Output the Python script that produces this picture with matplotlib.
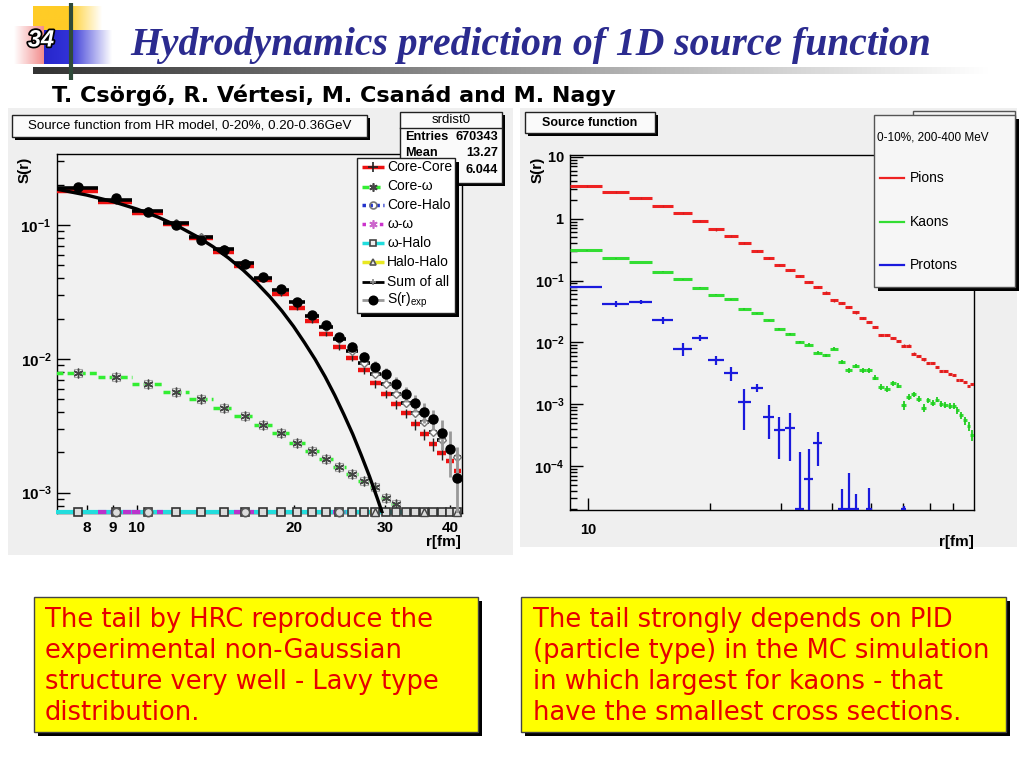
import numpy as np
import matplotlib
matplotlib.use("Agg")
import matplotlib.pyplot as plt
from matplotlib.patches import Rectangle
import matplotlib.patheffects as pe
from matplotlib.ticker import FixedLocator, FixedFormatter, NullFormatter, LogLocator

plt.rcParams['font.family'] = ['Liberation Sans', 'DejaVu Sans']
plt.rcParams['mathtext.fontset'] = 'custom'
plt.rcParams['mathtext.rm'] = 'Liberation Sans'
plt.rcParams['mathtext.bf'] = 'Liberation Sans:bold'
plt.rcParams['mathtext.it'] = 'Liberation Sans:italic'

# ---------------- data: left panel (HR model, bins of 1.4 fm) ----------------
left_edges = [7.0, 8.4, 9.8, 11.2, 12.6, 14.0, 15.4, 16.8, 18.2, 19.6, 21.0, 22.4, 23.8,
              25.2, 26.6, 28.0, 29.4, 30.8, 32.2, 33.6, 35.0, 36.4, 37.8, 39.2, 40.6, 42.0]
core_core = [0.180, 0.149, 0.124, 0.1017, 0.0796, 0.0632, 0.0494, 0.0388, 0.0305, 0.0241,
             0.0192, 0.0153, 0.0123, 0.0102, 0.0082, 0.00656, 0.00546, 0.00459, 0.00392,
             0.00326, 0.00274, 0.00231, 0.00199, 0.00172, 0.00146]
core_core_err = [0.003, 0.003, 0.0025, 0.002, 0.0017, 0.0014, 0.0012, 0.001, 0.0009, 0.0008,
                 0.0007, 0.0006, 0.0006, 0.0005, 0.0005, 0.00045, 0.0004, 0.00035, 0.0003,
                 0.0003, 0.00027, 0.00025, 0.00022, 0.0002, 0.0002]
core_omega = [0.00787, 0.00727, 0.00649, 0.00568, 0.00501, 0.00427, 0.00374, 0.0032, 0.00277,
              0.00236, 0.00206, 0.0018, 0.00156, 0.00137, 0.00123, 0.0011, 0.00092, 0.00083,
              0, 0, 0, 0, 0, 0, 0]
sum_all = [0.188, 0.154, 0.127, 0.103, 0.0818, 0.0658, 0.0517, 0.0404, 0.0327, 0.0267, 0.0209,
           0.0174, 0.0142, 0.0115, 0.00925, 0.0077, 0.0065, 0.00546, 0.00465, 0.00396,
           0.00339, 0.00285, 0.00247, 0.00208, 0.00185]
s_exp = [0.193, 0.158, 0.1245, 0.100, 0.0773, 0.065, 0.0508, 0.0411, 0.0332, 0.0267, 0.0212,
         0.0179, 0.0145, 0.0123, 0.0103, 0.0087, 0.0077, 0.0065, 0.00546, 0.0047, 0.00402,
         0.00353, 0.0028, 0.00211, 0.00128]
s_exp_err = [0.005, 0.004, 0.004, 0.003, 0.0025, 0.002, 0.002, 0.0017, 0.0015, 0.0013, 0.0012,
             0.0011, 0.0010, 0.0010, 0.0009, 0.0009, 0.0009, 0.0008, 0.0007, 0.0007, 0.0007,
             0.0006, 0.0007, 0.0008, 0.0009]
# histograms that are empty (drawn on the frame floor); bins where each shows on top
omega_halo_floor_bins = list(range(1, 26))
omega_omega_floor_bins = [2, 3, 7, 13]
core_halo_floor_bins = [2, 3, 7, 13]
halo_halo_floor_bins = [16, 21, 25]
# Gaussian fit curve
fit_r = [7.0, 8.0, 9.0, 10.0, 11.0, 12.0, 13.0, 14.0, 15.0, 16.0, 17.0, 18.0, 19.0, 20.0,
         21.0, 22.0, 23.0, 24.0, 25.0, 26.0, 27.0, 28.0, 29.0, 29.6]
fit_s = [0.1856, 0.1677, 0.1496, 0.1317, 0.1144, 0.0979, 0.0827, 0.0690, 0.0567, 0.0461,
         0.0369, 0.0292, 0.0228, 0.0175, 0.0132, 0.00994, 0.00736, 0.00535, 0.00383,
         0.00273, 0.00190, 0.00132, 0.00090, 0.000711]
left_xticks = [8, 9, 10, 20, 30, 40]
left_xticklabels = ['8', '9', '10', '20', '30', '40']
left_yticks = [1e-3, 1e-2, 1e-1]
left_yticklabels = [r'$\mathbf{10^{-3}}$', r'$\mathbf{10^{-2}}$', r'$\mathbf{10^{-1}}$']
left_legend = ['Core-Core', 'Core-ω', 'Core-Halo', 'ω-ω', 'ω-Halo', 'Halo-Halo',
               'Sum of all', r'S(r)$_{\mathrm{exp}}$']
stats_rows = [('Entries', '670343'), ('Mean', '13.27'), ('', '6.044')]

# ---------------- data: right panel (MC, bins of 1.8 fm) ----------------
right_edges = np.linspace(9.0, 90.0, 46)
pions = [3.4, 2.73, 2.13, 1.58, 1.24, 0.93, 0.67, 0.53, 0.41, 0.305, 0.235, 0.179, 0.150,
         0.119, 0.094, 0.079, 0.064, 0.0476, 0.0436, 0.0371, 0.0305, 0.0247, 0.0213, 0.0180,
         0.0130, 0.0130, 0.0119, 0.0105, 0.0089, 0.0089, 0.0066, 0.0060, 0.0053, 0.0047,
         0.0047, 0.0040, 0.0035, 0.0034, 0.0031, 0.0030, 0.0025, 0.0025, 0.0023, 0.0020, 0.0021]
kaons = [0.308, 0.229, 0.200, 0.138, 0.104, 0.076, 0.0594, 0.0494, 0.0349, 0.0294, 0.0226,
         0.0166, 0.0138, 0.0101, 0.0092, 0.0068, 0.0062, 0.0079, 0.0048, 0.00353, 0.0041,
         0.00353, 0.00353, 0.00269, 0.0019, 0.00179, 0.0022, 0.0020, 0.00096, 0.00131,
         0.00145, 0.00123, 0.00088, 0.00116, 0.00105, 0.00119, 0.00102, 0.00098, 0.00093,
         0.00093, 0.0008, 0.000665, 0.00055, 0.00044, 0.00032]
kaons_err = [0.004, 0.003, 0.003, 0.002, 0.002, 0.0015, 0.0012, 0.001, 0.0009, 0.0008, 0.0007,
             0.0006, 0.0005, 0.0005, 0.0005, 0.0004, 0.0004, 0.0004, 0.0003, 0.0003, 0.0003,
             0.0003, 0.0003, 0.00025, 0.0002, 0.0002, 0.0002, 0.0002, 0.00015, 0.00015,
             0.00015, 0.00013, 0.00012, 0.00012, 0.00012, 0.00012, 0.00011, 0.0001, 0.0001,
             0.0001, 0.0001, 0.00009, 0.00008, 0.00007, 0.00007]
protons = [0.079, 0.042, 0.0453, 0.0226, 0.0079, 0.0119, 0.0052, 0.0032, 0.00109, 0.00186,
           0.00062, 0.00038, 0.00042, 0, 6.1e-5, 2.32e-4, 0, 0, 0, 0, 0, 0, 0, 0, 0, 0, 0, 0,
           0, 0, 0, 0, 0, 0, 0, 0, 0, 0, 0, 0, 0, 0, 0, 0, 0]
protons_err = [0.004, 0.004, 0.004, 0.003, 0.0019, 0.0015, 0.0009, 0.0008, 0.0007, 0.0003,
               0.00035, 0.00025, 0.0003, 0.00017, 0.00013, 0.00013, 0, 0, 4.3e-5, 7.8e-5,
               3.6e-5, 0, 4.4e-5, 0, 0, 0, 0, 0, 2.3e-5, 0, 0, 0, 0, 0, 0, 0, 0, 0, 0, 0, 0,
               0, 0, 0, 0]
right_yticks = [1e-4, 1e-3, 1e-2, 1e-1, 1, 10]
right_yticklabels = [r'$\mathbf{10^{-4}}$', r'$\mathbf{10^{-3}}$', r'$\mathbf{10^{-2}}$',
                     r'$\mathbf{10^{-1}}$', r'$\mathbf{1}$', r'$\mathbf{10}$']
right_legend = ['Pions', 'Kaons', 'Protons']

# ---------------- texts ----------------
title = 'Hydrodynamics prediction of 1D source function'
authors = 'T. Csörgő, R. Vértesi, M. Csanád and M. Nagy'
left_note = ['The tail by HRC reproduce the', 'experimental non-Gaussian',
             'structure very well - Lavy type', 'distribution.']
right_note = ['The tail strongly depends on PID', '(particle type) in the MC simulation',
              'in which largest for kaons - that', 'have the smallest cross sections.']

# ============================================================================
W, H = 1024, 768
fig = plt.figure(figsize=(W / 100, H / 100), dpi=100)
fig.patch.set_facecolor('white')

bg = fig.add_axes([0, 0, 1, 1], zorder=0)
fg = fig.add_axes([0, 0, 1, 1], zorder=5)
for a in (bg, fg):
    a.axis('off')
    a.patch.set_alpha(0)


def px_axes(x0, y0, x1, y1, z):
    return fig.add_axes([x0 / W, 1 - y1 / H, (x1 - x0) / W, (y1 - y0) / H], zorder=z)


def rect(ax, x0, y0, x1, y1, fc, ec='black', lw=1.0, z=1, shadow=0):
    if shadow:
        ax.add_patch(Rectangle((x0 + shadow, y0 + shadow), x1 - x0, y1 - y0,
                               fc='black', ec='none', zorder=z))
    ax.add_patch(Rectangle((x0, y0), x1 - x0, y1 - y0, fc=fc, ec=ec, lw=lw, zorder=z + 0.1))


def hgrad(ax, x0, y0, x1, y1, c0, c1, z=1):
    n = 256
    t = np.linspace(0, 1, n)[None, :, None]
    c0 = np.array(c0)[None, None, :]
    c1 = np.array(c1)[None, None, :]
    img = c0 * (1 - t) + c1 * t
    ax.imshow(img, extent=[x0, x1, y1, y0], aspect='auto', interpolation='bilinear',
              zorder=z)

# ---- slide decoration ----
hgrad(bg, 33, 67, 990, 74, (0.20, 0.20, 0.20), (1, 1, 1), z=1)
hgrad(bg, 33, 6, 72, 32, (1.0, 0.80, 0.15), (1.0, 0.80, 0.15), z=1)
hgrad(bg, 72, 6, 102, 32, (1.0, 0.83, 0.25), (1, 1, 1), z=1)
hgrad(bg, 14, 26, 44, 64, (1, 1, 1), (0.95, 0.55, 0.55), z=1.2)
hgrad(bg, 44, 30, 72, 64, (0.15, 0.15, 0.80), (0.20, 0.20, 0.85), z=1.3)
hgrad(bg, 72, 30, 112, 64, (0.25, 0.25, 0.85), (1, 1, 1), z=1.3)
bg.plot([70.5, 70.5], [3, 80], color='#2f4a3a', lw=3, zorder=2, solid_capstyle='butt')
bg.text(41, 40, '34', fontsize=17, fontweight='bold', fontstyle='italic', color='white',
        ha='center', va='center', family='Liberation Sans', zorder=3,
        path_effects=[pe.withStroke(linewidth=2.5, foreground='black')])
bg.text(130, 45, title, fontsize=28.5, fontweight='bold', fontstyle='italic',
        family='Liberation Serif', color='#2b2b8f', ha='left', va='center', zorder=3)
bg.text(52, 95, authors, fontsize=16, fontweight='bold', family='DejaVu Sans',
        color='black', ha='left', va='center', zorder=3)

# panel backgrounds
rect(bg, 8, 108, 513, 555, '#efefef', ec='none', z=1)
rect(bg, 520, 108, 1017, 547, '#efefef', ec='none', z=1)

# ============================ left panel ============================
axL = px_axes(57, 154.3, 461.7, 513, 2)
axL.set_facecolor('#f1f1f1')
axL.set_xscale('log')
axL.set_yscale('log')
lxmin, lxmax = 7.02, 42.1
lymin, lymax = 7.05e-4, 0.338
axL.set_xlim(lxmin, lxmax)
axL.set_ylim(lymin, lymax)

le = np.array(left_edges)
llo, lhi = le[:-1], le[1:]
lc = 0.5 * (llo + lhi)

cc = np.array(core_core)
axL.hlines(cc, llo, lhi, colors='#ee1111', lw=3.2, zorder=3)
axL.vlines(lc, cc - np.array(core_core_err), cc + np.array(core_core_err),
           colors='#222222', lw=1, zorder=3.1)

co = np.array(core_omega)
m = co > 0
axL.hlines(co[m], llo[m], lhi[m], colors='#33ee33', lw=2.5, linestyles=(0, (2, 1.2)), zorder=3)
axL.plot(lc[m], co[m], ls='none', marker=(6, 2, 0), ms=7, mec='#444444', mew=1.0, zorder=3.2)
axL.plot(lc[m], co[m], ls='none', marker='s', ms=6, mfc='none', mec='#aaaaaa', mew=0.8,
         zorder=3.1)

# empty histograms drawn on the floor
fy = lymin * 1.01
ohb = np.array(omega_halo_floor_bins) - 1
axL.hlines(np.full(len(ohb), fy), llo[ohb], lhi[ohb], colors='#22dddd', lw=3, zorder=3,
           clip_on=False)
oob = np.array(omega_omega_floor_bins) - 1
axL.hlines(np.full(len(oob), fy), llo[oob], lhi[oob], colors='#bb33cc', lw=3,
           linestyles=(0, (2, 1)), zorder=3.05, clip_on=False)
hhb = np.array(halo_halo_floor_bins) - 1
axL.hlines(np.full(len(hhb), fy), llo[hhb], lhi[hhb], colors='#e8e822', lw=3,
           linestyles=(0, (2, 1)), zorder=3.05, clip_on=False)
axL.plot(lc[ohb], np.full(len(ohb), fy), ls='none', marker='s', ms=6, mfc='#dddddd',
         mec='#333333', mew=1.2, zorder=3.3, clip_on=False)
chb = np.array(core_halo_floor_bins) - 1
axL.plot(lc[chb], np.full(len(chb), fy), ls='none', marker='o', ms=6, mfc='#dddddd',
         mec='#555555', mew=1.2, zorder=3.4, clip_on=False)
axL.plot(lc[hhb], np.full(len(hhb), fy), ls='none', marker='^', ms=6, mfc='#dddddd',
         mec='#444444', mew=1.0, zorder=3.4, clip_on=False)

sa = np.array(sum_all)
axL.hlines(sa, llo, lhi, colors='black', lw=2.6, zorder=3.5)
axL.plot(lc, sa, ls='none', marker='D', ms=4, mfc='white', mec='#777777', mew=1.0, zorder=3.6)

se = np.array(s_exp)
see = np.array(s_exp_err)
axL.vlines(lc, np.maximum(se - see, lymin), se + see, colors='#999999', lw=2, zorder=3.7)
axL.plot(lc, se, ls='none', marker='o', ms=6.5, color='black', zorder=3.8)

axL.plot(fit_r, fit_s, color='black', lw=2.4, zorder=4)

axL.xaxis.set_major_locator(FixedLocator(left_xticks))
axL.xaxis.set_major_formatter(FixedFormatter(left_xticklabels))
axL.xaxis.set_minor_locator(FixedLocator([]))
axL.yaxis.set_major_locator(FixedLocator(left_yticks))
axL.yaxis.set_major_formatter(FixedFormatter(left_yticklabels))
axL.yaxis.set_minor_locator(LogLocator(subs=np.arange(2, 10)))
axL.yaxis.set_minor_formatter(NullFormatter())
axL.tick_params(axis='both', which='major', direction='in', length=9, width=1,
                labelsize=11, top=False, right=False)
axL.tick_params(axis='y', which='minor', direction='in', length=5, width=1, right=False)
axL.tick_params(axis='x', which='major', length=6, pad=6)
axL.tick_params(axis='y', which='major', pad=4)
for lab in axL.get_xticklabels():
    lab.set_fontweight('bold')
for s in axL.spines.values():
    s.set_linewidth(1)

# left panel overlays
rect(fg, 12, 115, 367, 137, '#fafafa', ec='#222222', z=2, shadow=3)
fg.text(190, 126, 'Source function from HR model, 0-20%, 0.20-0.36GeV', fontsize=9.6,
        ha='center', va='center', zorder=3)
rect(fg, 400, 112, 502, 183, '#fafafa', ec='#222222', z=2, shadow=3)
fg.plot([400, 502], [128, 128], color='#222222', lw=1, zorder=2.5)
fg.text(451, 120, 'srdist0', fontsize=9.5, ha='center', va='center', zorder=3)
for yy, (k, v) in zip([137, 153, 170], stats_rows):
    if k:
        fg.text(405, yy, k, fontsize=9.2, fontweight='bold', ha='left', va='center', zorder=3)
    fg.text(498, yy, v, fontsize=9.2, fontweight='bold', ha='right', va='center', zorder=3)

rect(fg, 357, 158, 455, 313, '#ffffff', ec='#222222', z=4, shadow=4)
leg_y = [167, 186.5, 205, 224, 243, 262, 281.5, 300]
styles = [
    dict(color='#ee1111', ls='-', lw=2.5, marker='+', mec='#222222', ms=7, mfc='none'),
    dict(color='#33ee33', ls=(0, (2, 1.2)), lw=2.5, marker=(6, 2, 0), mec='#444444', ms=6, mfc='none'),
    dict(color='#2233cc', ls=(0, (1, 1)), lw=2.5, marker='o', mec='#777777', ms=5, mfc='none'),
    dict(color='#cc33cc', ls=(0, (1, 1.5)), lw=2.5, marker=(6, 2, 0), mec='#cc66cc', ms=6, mfc='none'),
    dict(color='#22dddd', ls='-', lw=2.5, marker='s', mec='#444444', ms=5, mfc='#eeeeee'),
    dict(color='#e8e822', ls='-', lw=2.5, marker='^', mec='#555555', ms=5, mfc='#eeeeee'),
    dict(color='black', ls='-', lw=2, marker='+', mec='#888888', ms=5, mfc='none'),
    dict(color='#999999', ls='-', lw=2, marker='o', mec='black', ms=6, mfc='black'),
]
for yy, lab, st in zip(leg_y, left_legend, styles):
    fg.plot([362, 384], [yy, yy], color=st['color'], ls=st['ls'], lw=st['lw'], zorder=4.5,
            solid_capstyle='butt')
    fg.plot([373], [yy], ls='none', marker=st['marker'], mec=st['mec'], mfc=st['mfc'],
            ms=st['ms'], mew=1.2, zorder=4.6)
    fg.text(387, yy, lab, fontsize=10, ha='left', va='center', zorder=4.7)

fg.text(25, 170, 'S(r)', fontsize=11, fontweight='bold', rotation=90, ha='center',
        va='center', zorder=3)
fg.text(461, 542, 'r[fm]', fontsize=11, fontweight='bold', ha='right', va='center', zorder=3)

# ============================ right panel ============================
axR = px_axes(570, 155, 974, 510, 2)
axR.set_facecolor('#f1f1f1')
axR.set_xscale('log')
axR.set_yscale('log')
rymin, rymax = 1.95e-5, 10.7
axR.set_xlim(9.0, 90.0)
axR.set_ylim(rymin, rymax)

re_ = np.array(right_edges)
rlo, rhi = re_[:-1], re_[1:]
rc = 0.5 * (rlo + rhi)

pi = np.array(pions)
axR.hlines(pi, rlo, rhi, colors='#ee2222', lw=2.2, zorder=3)
axR.vlines(rc, pi * 0.96, pi * 1.04, colors='#cc2222', lw=1, zorder=3)

ka = np.array(kaons)
kae = np.array(kaons_err)
axR.hlines(ka, rlo, rhi, colors='#33dd33', lw=2.2, zorder=3)
axR.vlines(rc, ka - kae, ka + kae, colors='#22cc22', lw=1.3, zorder=3)

pr = np.array(protons)
pre = np.array(protons_err)
mp = pr > 0
axR.hlines(pr[mp], rlo[mp], rhi[mp], colors='#1a1add', lw=1.6, zorder=3)
axR.vlines(rc[mp], np.maximum(pr[mp] - pre[mp], rymin), pr[mp] + pre[mp], colors='#1a1add',
           lw=1.6, zorder=3)
mz = (pr == 0) & (pre > 0)
axR.vlines(rc[mz], rymin, pre[mz], colors='#1a1add', lw=1.6, zorder=3)
axR.hlines(np.full(mz.sum(), rymin * 1.03), rlo[mz], rhi[mz], colors='#1a1add', lw=1.6,
           zorder=3)

axR.xaxis.set_major_locator(FixedLocator([10]))
axR.xaxis.set_major_formatter(FixedFormatter(['10']))
axR.xaxis.set_minor_locator(FixedLocator([20, 30, 40, 50, 60, 70, 80]))
axR.xaxis.set_minor_formatter(NullFormatter())
axR.yaxis.set_major_locator(FixedLocator(right_yticks))
axR.yaxis.set_major_formatter(FixedFormatter(right_yticklabels))
axR.yaxis.set_minor_locator(LogLocator(subs=np.arange(2, 10)))
axR.yaxis.set_minor_formatter(NullFormatter())
axR.tick_params(axis='both', which='major', direction='in', length=9, width=1,
                labelsize=10.5, top=False, right=False)
axR.tick_params(axis='both', which='minor', direction='in', length=5, width=1, top=False,
                right=False)
axR.tick_params(axis='x', which='major', pad=9)
axR.tick_params(axis='y', which='major', pad=4)
for lab in axR.get_xticklabels():
    lab.set_fontweight('bold')
for s in axR.spines.values():
    s.set_linewidth(1)

rect(fg, 525, 112, 655, 133, '#fafafa', ec='#222222', z=2, shadow=3)
fg.text(590, 122.5, 'Source function', fontsize=9, fontweight='bold', ha='center',
        va='center', zorder=3)
rect(fg, 913, 111, 1015, 180, '#f4f4f4', ec='#555555', z=2)
rect(fg, 874, 115, 1015, 287, '#f6f6f6', ec='#555555', z=4, shadow=4)
fg.text(877, 137, '0-10%, 200-400 MeV', fontsize=8.5, ha='left', va='center', zorder=4.5)
for yy, lab, col in zip([178, 222, 265], right_legend, ['#ee2222', '#33dd33', '#1a1add']):
    fg.plot([880, 904], [yy, yy], color=col, lw=1.6, zorder=4.5)
    fg.text(910, yy, lab, fontsize=10, ha='left', va='center', zorder=4.5)

fg.text(538, 170, 'S(r)', fontsize=11, fontweight='bold', rotation=90, ha='center',
        va='center', zorder=3)
fg.text(974, 542, 'r[fm]', fontsize=11, fontweight='bold', ha='right', va='center', zorder=3)

# ============================ notes ============================
rect(bg, 34, 597, 478, 732, '#ffff00', ec='#444444', z=2, shadow=4)
rect(bg, 521, 597, 1006, 732, '#ffff00', ec='#444444', z=2, shadow=4)
for i, line in enumerate(left_note):
    bg.text(45, 620 + 31 * i, line, fontsize=18.5, family='DejaVu Sans', color='#e60000',
            ha='left', va='center', zorder=3)
for i, line in enumerate(right_note):
    bg.text(533, 620 + 31 * i, line, fontsize=18.5, family='DejaVu Sans', color='#e60000',
            ha='left', va='center', zorder=3)

for a in (bg, fg):
    a.set_xlim(0, W)
    a.set_ylim(H, 0)

fig.savefig('out.png', dpi=100, facecolor='white')
